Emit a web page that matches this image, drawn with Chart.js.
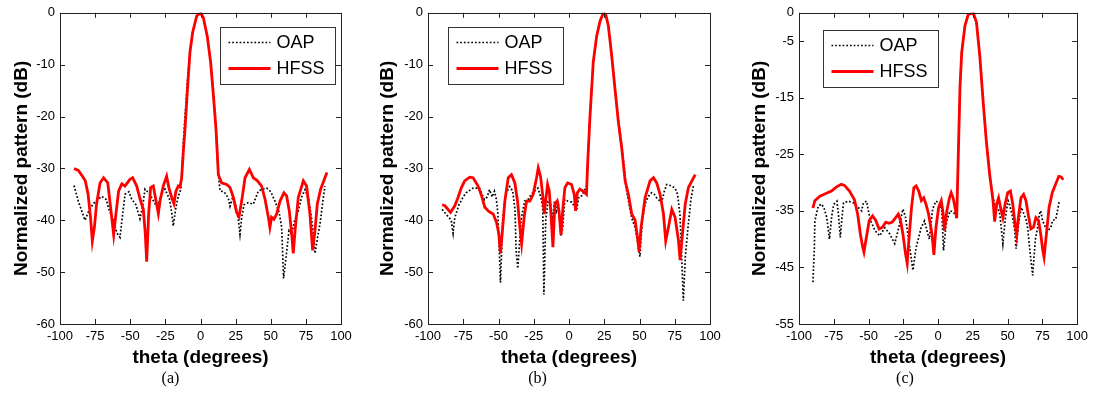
<!DOCTYPE html>
<html><head><meta charset="utf-8">
<script src="https://cdn.jsdelivr.net/npm/chart.js@4.4.1/dist/chart.umd.min.js"></script>
<style>
html,body{margin:0;padding:0;background:#fff;}
#wrap{position:relative;width:1093px;height:396px;overflow:hidden;background:#fff;}
canvas{position:absolute;top:0;}
</style></head><body>
<div id="wrap">
<canvas id="ca" width="365" height="396" style="left:0px"></canvas>
<canvas id="cb" width="365" height="396" style="left:365px"></canvas>
<canvas id="cc" width="363" height="396" style="left:730px"></canvas>
</div>
<script>
// ---------- tick labels ----------
const xTicks = [-100, -75, -50, -25, 0, 25, 50, 75, 100];
const yTicksA = [0, -10, -20, -30, -40, -50, -60];
const yTicksB = [0, -10, -20, -30, -40, -50, -60];
const yTicksC = [0, -5, -15, -25, -35, -45, -55];
const seriesNames = ['OAP', 'HFSS'];
const captions = ['(a)', '(b)', '(c)'];

// ---------- panel (a) ----------
const thetaHfssA = [-90,-87,-84,-82,-80,-78.3,-77,-75.5,-74,-71.5,-69,-66,-64.5,-62.8,-61.8,-60.2,-58.3,-56,-53.8,-50.2,-48.3,-45.4,-43,-40.7,-39.3,-38.3,-36.9,-35.5,-33.6,-32.1,-30,-28.8,-26.5,-24.1,-22.5,-20.5,-18.9,-17.5,-15.8,-14.6,-13.4,-12.2,-11,-9.1,-7.5,-5.6,-2.7,0,2,4.8,7.2,9,11,12,12.7,15,18.6,21,23.4,25.7,27.4,29.3,31.7,34.8,37.6,40.5,43.5,45.9,48.3,49.4,50.6,52.3,54.2,56.6,59.4,61.3,63.2,64.9,66,67.5,69.6,73.2,75.5,77.9,79.8,81.5,83.1,85.5,90];
const hfssA = [-30,-30.4,-31.5,-32.4,-35,-39.4,-44,-41.3,-36.9,-32.8,-31.8,-32.8,-36.3,-40.4,-42.8,-38.8,-34.4,-33,-33.4,-32.1,-31.8,-33.4,-35.9,-37.9,-42.6,-48,-38.8,-33.7,-33.4,-35.6,-38.7,-36.3,-33.4,-31.5,-33.7,-35.6,-36.8,-34.4,-33.4,-33.6,-31.8,-26.7,-22.3,-14,-7.6,-3.8,-0.6,0,-0.9,-4.5,-9.5,-15.3,-22.3,-27.4,-31.2,-32.8,-33.1,-33.7,-35.6,-38.5,-39.3,-36.3,-31.8,-30.2,-31.8,-32.4,-33.4,-35.9,-39.4,-41.4,-39.4,-39.8,-38.8,-36.3,-34.7,-35.3,-38.2,-42.6,-46.4,-41.4,-35.6,-32.4,-33.4,-38.8,-45.8,-42,-36.9,-34,-30.8];
const thetaOapA = [-90,-87,-83.5,-82.2,-80,-76.3,-73,-70.3,-67,-65.6,-62,-59.6,-57.3,-55.5,-53.7,-51,-49,-46,-43.1,-41,-39.5,-36,-33,-31.2,-29.5,-27.6,-25.3,-22,-20.5,-19.4,-17.5,-15.8,-14,-13,-12,-10.5,-9,-7.5,-5.6,-2.7,0,2,4.8,7.2,9,11,12,13.2,13.9,17,19.8,21,23,25,27,28.1,29.3,31,34,37.6,41.1,44,47.1,50,53,56,57.8,59.1,61.4,63,64.9,67,69.6,72,74.4,77,79.5,81.5,83.5,85,87,88.6];
const oapA = [-33.3,-36.3,-39,-40,-38.5,-36.8,-36,-35.4,-36,-37.6,-40,-42.4,-43.3,-39,-35,-34.5,-35.9,-37,-39.7,-37,-34,-35,-36.5,-37.3,-36.5,-34.7,-34,-36,-38.5,-41.1,-37.5,-35.4,-34,-29,-24,-18,-12,-7.5,-3.8,-0.6,0,-0.9,-4.5,-9.5,-15.3,-22.3,-28,-32.5,-34.3,-34.6,-35.7,-37.3,-35.5,-37,-40,-42.7,-39.5,-37,-36.6,-36.9,-34.4,-34,-33.8,-34.5,-36.3,-38.5,-41.4,-51.2,-45.9,-42,-42.7,-40,-38.2,-35.5,-34.1,-36,-40.5,-46.4,-43,-40.8,-36.5,-33.4];

// ---------- panel (b) ----------
const thetaHfssB = [-90,-88,-84,-81,-78.7,-76.3,-74,-70.4,-68,-64.5,-62,-59.7,-56.9,-53.8,-51.4,-49.8,-48.6,-47.4,-45.5,-43.1,-40.8,-38.4,-36.5,-34.8,-33.6,-31.8,-30.1,-27.8,-25.4,-23,-21.8,-20.2,-18.7,-17.5,-16.6,-15.2,-14,-12.8,-11.4,-10,-8.4,-7.1,-5.7,-4.3,-2.9,-1,1.8,3.7,4.7,5.9,7.7,10.1,12.4,13.2,14.8,17.2,19.6,22,24.4,26,27.9,30.3,32.6,35,37.4,39.8,42.1,44.5,46.9,48.8,49.7,51.1,54,57.5,59.9,62.2,64.6,67,68.6,70.5,72.9,75.2,77.6,78.8,80.5,82.4,84.7,89.5];
const hfssB = [-37,-37.2,-38.5,-37.2,-35.6,-33.7,-32.4,-31.7,-31.8,-33.4,-35.3,-37.5,-38.3,-38.8,-40.4,-42.6,-46.4,-42.6,-36.3,-31.8,-31.2,-32.8,-36.3,-41.4,-44.5,-39.4,-36.3,-36.3,-35,-31.8,-29.9,-31.5,-35,-38.8,-36.3,-33.1,-34.4,-38.8,-45.2,-36.9,-36.3,-38.2,-42.8,-37.5,-33.7,-32.8,-33.1,-35,-38.2,-34.7,-34,-34.4,-35,-29.3,-20.4,-9.5,-4.5,-1.6,0,-0.3,-2.5,-8.3,-14.6,-21,-26.1,-32.4,-35,-38.8,-40,-43.8,-46.1,-41.4,-35.6,-32.4,-31.8,-32.8,-35,-38.8,-44,-41.4,-37.9,-39.4,-43.8,-47.7,-42.6,-36.9,-33.7,-31.2];
const thetaOapB = [-90,-86,-83.5,-82.2,-81,-78,-75,-73,-68,-63.5,-60,-58,-56.4,-54.5,-52.9,-51.5,-50.5,-48.6,-47,-45,-42,-39.9,-38.3,-37.5,-36.3,-34,-31.5,-29,-26.9,-24,-22.1,-20,-18.6,-17.8,-16.5,-15,-13,-12,-10.2,-8.8,-7.5,-5.6,-4.4,-3,-1,2,4.2,5.4,7,9,11.3,12.5,13.2,14.8,17.2,19.6,22,24.4,26,27.9,30.3,32.6,35,37.4,39.8,40.9,42,44.4,47,50.3,52,53.9,56,58.6,60.5,62.2,65.7,67.5,69.3,72.8,75.2,77,78.7,81.1,82.5,84.6,86.5,88.2];
const oapB = [-37.9,-39.2,-40,-42.5,-39.5,-37,-35.5,-34.7,-33.8,-33.8,-36,-35.5,-34.1,-35.5,-34.4,-36,-38.5,-52,-40,-35,-33.5,-34.4,-38,-45.9,-49.3,-40,-36.3,-36,-35,-34.3,-33.8,-35.5,-37.6,-54.3,-40,-36.5,-37,-40,-36.3,-38.2,-37,-43,-41.4,-36,-36.3,-36.5,-37.5,-38,-35.5,-35.3,-34.1,-33.5,-29.5,-20.4,-9.5,-4.5,-1.6,0,-0.3,-2.5,-8.3,-14.6,-20.5,-25.5,-31.5,-34.4,-36,-39.5,-41.5,-47,-40,-36.9,-35.5,-34.7,-35,-35.7,-36.6,-34.5,-33.1,-33.4,-33.8,-35,-38.9,-55.5,-47,-40.8,-36,-33.4];

// ---------- panel (c) ----------
const thetaHfssC = [-90,-88.6,-85,-80.3,-76.7,-73.2,-69.6,-67.3,-63.7,-60.2,-57.8,-55.9,-54.2,-53.3,-51.9,-49.5,-47.1,-44.8,-42.4,-40,-37.6,-35.3,-32.9,-30.5,-28.6,-27,-25.3,-23.4,-22.2,-21,-19.1,-17.4,-15.8,-13.9,-12,-10.3,-8.7,-6.8,-4.4,-3,-1.5,0.4,2.3,3.7,4.6,6.3,8.2,9.4,10.8,12.2,13.4,14.6,15.8,17,19.3,21.7,25.3,27.6,30,32.4,34.7,37.1,39.5,40.7,42.1,43.5,44.9,46.6,48.2,50.1,52,53.7,55.3,56.5,57.7,59.6,61.5,63.2,64.8,66.7,68.6,70.3,72.2,73.8,75.3,76.2,77.9,79.8,82.1,84.5,86.8,88.5,90];
const hfssC = [-34.5,-33.2,-32.4,-31.9,-31.5,-30.8,-30.3,-30.5,-31.5,-33,-35.6,-39.1,-41.4,-42.3,-40.2,-36.7,-35.9,-36.7,-38.2,-37.9,-37,-37.2,-37,-36.2,-35.6,-36.7,-39.1,-42.6,-44.3,-40.2,-34.4,-30.9,-30.6,-31.5,-33.2,-32.7,-33.8,-35.6,-39.1,-42.8,-37.9,-34.4,-33.2,-35.6,-38.5,-35,-32.7,-31.8,-32.7,-34.4,-36.3,-24.5,-12.8,-7,-2.3,-0.3,0,-1.7,-7.6,-15.7,-22.7,-28.6,-33.2,-36.9,-33.8,-32.7,-34.4,-36.2,-33.8,-31.8,-31.5,-33.8,-37.3,-39.3,-36.2,-32.7,-32.1,-33.2,-35.6,-38.2,-37.9,-36.2,-36.7,-39.1,-42,-43.2,-39.1,-34.4,-31.8,-30.3,-28.9,-29,-29.5];
const thetaOapC = [-90,-89,-88.6,-86.2,-83.8,-82,-80,-78.1,-76.5,-75.1,-72.7,-71.5,-70.3,-69,-68,-64.4,-60.9,-57,-55,-53.7,-51.4,-48.9,-45.4,-41.9,-38.3,-34.7,-31.2,-28.8,-25.3,-23.5,-21.7,-18.1,-15.8,-12.2,-9.8,-6.3,-3.9,-1.6,1,2.7,3.9,5.5,6.3,8.6,11,13.4,14.6,15.8,17,19.3,21.7,25.3,27.6,30,32.4,34.7,37.1,39.5,40.7,43,44.4,46.6,48.5,50.3,51.4,53.5,55.1,56.1,58,59.8,60.9,63.4,64.4,66,68,70,71.5,72.8,73.8,75.1,77.4,78.7,81,82.3,84.6,87,88.1];
const oapC = [-47.6,-42,-36.8,-34.2,-33.8,-34.5,-36.2,-40,-36,-33.9,-33.3,-36,-39.7,-36,-33.6,-33.3,-33.6,-34.5,-35,-33.6,-33.3,-36.5,-38.5,-39.4,-38,-39.1,-40.8,-38.5,-34.7,-36,-39.1,-45.5,-41.5,-38,-36.8,-40,-34.7,-33.3,-33.6,-35,-42,-38,-36.7,-35,-35.2,-36.2,-24.5,-12.8,-7,-2.3,-0.3,0,-1.7,-7.6,-15.7,-22.7,-28.6,-32.5,-33.9,-34.5,-35.6,-40.8,-36,-33.2,-33.9,-36,-38.5,-41.7,-37,-34.4,-35,-36.7,-38,-42,-46.4,-40,-38,-35.6,-35,-36.7,-38,-38.5,-38,-36.7,-36.5,-33.5,-33.3];

// ---------- helpers ----------
function pts(xs, ys) { return xs.map((x, i) => ({x: x, y: ys[i]})); }
const FONT = '"Liberation Sans", Arial, Helvetica, sans-serif';

const framePlugin = {
  id: 'frame',
  afterDraw(chart) {
    const ctx = chart.ctx, a = chart.chartArea;
    const xs = chart.scales.x, ys = chart.scales.y;
    ctx.save();
    ctx.strokeStyle = '#222';
    ctx.lineWidth = 1;
    const L = 5;
    ctx.beginPath();
    xs.ticks.forEach(t => {
      const px = Math.round(xs.getPixelForValue(t.value)) + 0.5;
      ctx.moveTo(px, a.bottom); ctx.lineTo(px, a.bottom - L);
      ctx.moveTo(px, a.top); ctx.lineTo(px, a.top + L);
    });
    ys.ticks.forEach(t => {
      const py = Math.round(ys.getPixelForValue(t.value)) + 0.5;
      ctx.moveTo(a.left, py); ctx.lineTo(a.left + L, py);
      ctx.moveTo(a.right, py); ctx.lineTo(a.right - L, py);
    });
    ctx.stroke();
    ctx.strokeRect(Math.round(a.left) + 0.5, Math.round(a.top) + 0.5,
                   Math.round(a.right - a.left), Math.round(a.bottom - a.top));
    // legend box
    const o = chart.options.plugins.frame;
    const bx = Math.round(a.left + o.legendDx) + 0.5, by = Math.round(a.top + o.legendDy) + 0.5;
    const bw = 115, bh = 57;
    ctx.fillStyle = '#fff';
    ctx.fillRect(bx, by, bw, bh);
    ctx.strokeStyle = '#333';
    ctx.strokeRect(bx, by, bw, bh);
    const rows = [15, 41];
    chart.data.datasets.forEach((ds, i) => {
      const yy = by + rows[i];
      ctx.save();
      ctx.strokeStyle = ds.borderColor;
      ctx.lineWidth = ds.borderWidth;
      ctx.setLineDash(ds.borderDash || []);
      ctx.beginPath();
      ctx.moveTo(bx + 8, yy); ctx.lineTo(bx + 50, yy);
      ctx.stroke();
      ctx.restore();
      ctx.fillStyle = '#000';
      ctx.font = '18px ' + FONT;
      ctx.textBaseline = 'middle';
      ctx.textAlign = 'left';
      ctx.fillText(ds.label, bx + 56, yy + 1);
    });
    ctx.restore();
  }
};

function makePanel(id, cfg) {
  const ctx = document.getElementById(id);
  return new Chart(ctx, {
    type: 'line',
    data: {
      datasets: [
        { label: seriesNames[0], data: pts(cfg.thetaO, cfg.oap), borderColor: '#000000', borderWidth: 1.7,
          borderDash: [1.7, 2], pointRadius: 0, tension: 0, order: 1, fill: false },
        { label: seriesNames[1], data: pts(cfg.thetaH, cfg.hfss), borderColor: '#ff0000', borderWidth: 2.8,
          pointRadius: 0, tension: 0, order: 0, fill: false }
      ]
    },
    options: {
      responsive: false, animation: false, devicePixelRatio: 1,
      events: [],
      layout: { padding: { top: 10, right: cfg.padRight, left: 0, bottom: 0 } },
      plugins: {
        legend: { display: false }, tooltip: { enabled: false },
        title: { display: true, position: 'bottom', text: cfg.caption, color: '#000',
                 font: { family: '"Liberation Serif", "Times New Roman", serif', size: 16, weight: 'normal', lineHeight: 1.2 },
                 padding: { top: 0, bottom: 8 } },
        frame: { legendDx: cfg.legendDx, legendDy: cfg.legendDy }
      },
      scales: {
        x: {
          type: 'linear', min: -100, max: 100,
          afterBuildTicks: s => { s.ticks = xTicks.map(v => ({ value: v })); },
          afterFit: s => { s.height = 44.8; },
          grid: { display: false, drawTicks: false }, border: { display: false },
          ticks: { color: '#000', font: { family: FONT, size: 13 }, padding: 5, maxRotation: 0, autoSkip: false },
          title: { display: true, text: 'theta (degrees)', color: '#000',
                   font: { family: FONT, size: 19, weight: 'bold', lineHeight: 1.2 }, padding: { top: 0, bottom: 0 } }
        },
        y: {
          type: 'linear', min: cfg.yMin, max: 0,
          afterBuildTicks: s => { s.ticks = cfg.yTicks.map(v => ({ value: v })); },
          afterFit: s => { s.width = cfg.plotLeft; },
          grid: { display: false, drawTicks: false }, border: { display: false },
          ticks: { color: '#000', font: { family: FONT, size: 13 }, padding: 5, autoSkip: false },
          title: { display: true, text: 'Normalized pattern (dB)', color: '#000',
                   font: { family: FONT, size: 19, weight: 'bold', lineHeight: 1.2 }, padding: { top: cfg.yTitleTop, bottom: 0 } }
        }
      }
    },
    plugins: [framePlugin]
  });
}

makePanel('ca', { thetaH: thetaHfssA, hfss: hfssA, thetaO: thetaOapA, oap: oapA, yMin: -60, yTicks: yTicksA,
  caption: captions[0], plotLeft: 60, padRight: 24, yTitleTop: 10, legendDx: 160, legendDy: 14 });
makePanel('cb', { thetaH: thetaHfssB, hfss: hfssB, thetaO: thetaOapB, oap: oapB, yMin: -60, yTicks: yTicksB,
  caption: captions[1], plotLeft: 63, padRight: 20, yTitleTop: 11.6, legendDx: 20, legendDy: 14 });
makePanel('cc', { thetaH: thetaHfssC, hfss: hfssC, thetaO: thetaOapC, oap: oapC, yMin: -55, yTicks: yTicksC,
  caption: captions[2], plotLeft: 69, padRight: 13, yTitleTop: 18.6, legendDx: 24, legendDy: 17 });
</script>
</body></html>
